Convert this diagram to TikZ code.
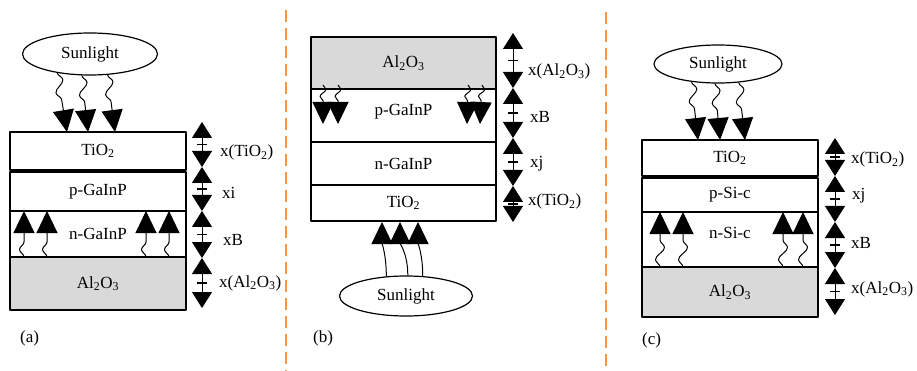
\documentclass[tikz,border=0pt]{standalone}
\usepackage{fontspec}
\setmainfont{Liberation Serif}
\usetikzlibrary{positioning,shapes.geometric,arrows.meta,decorations.pathmorphing,decorations.markings}
\definecolor{sepline}{HTML}{F79646}
\definecolor{oxide}{HTML}{D9D9D9}

\begin{document}
\begin{tikzpicture}[x=1pt, y=1pt, font=\fontsize{17}{20}\selectfont, line join=round,
	layer/.style={draw, line width=1.4pt, minimum width=176pt, inner sep=0pt, outer sep=0pt},
	sun/.style={draw, ellipse, line width=1.2pt, minimum width=135pt, minimum height=42pt, inner sep=0pt},
	ray/.style={line width=1pt, -{Triangle[width=21pt,length=22pt]}, decorate,
		decoration={snake, amplitude=4.5pt, segment length=24pt, post length=22pt}},
	shortray/.style={ray, decoration={snake, amplitude=3pt, segment length=14pt, post length=22pt}},
	beam/.style={line width=1pt, -{Triangle[width=21pt,length=22pt]}},
	span/.style={line width=0.8pt, {Triangle[width=20pt,length=16pt]}-{Triangle[width=20pt,length=16pt]},
		postaction={decorate, decoration={markings, mark=at position 0.5 with {\draw[-, line width=1.6pt] (0,-5pt) -- (0,5pt);}}}},
	dim/.style={anchor=base west, inner sep=0pt},
	sep/.style={draw=sepline, line width=2.2pt, dash pattern=on 12pt off 6pt}]
	\useasboundingbox (0,0) rectangle (917,-371);
	% separators
	\coordinate (s1t) at (286,-10);
	\coordinate (s1b) at (286,-371);
	\coordinate (s2t) at (606,-12);
	\coordinate (s2b) at (606,-371);
	\draw[sep] (s1t) -- (s1b);
	\draw[sep] (s2t) -- (s2b);

	% (a)
	\node[sun] (sunA) at (90,-54) {Sunlight};
	\node[layer, anchor=north, minimum height=38pt] (tioA) at (98,-132) {TiO\textsubscript{2}};
	\node[layer, below=2pt of tioA, minimum height=39pt] (pA) {p-GaInP};
	\node[layer, below=0pt of pA, minimum height=46pt] (nA) {n-GaInP};
	\node[layer, below=0pt of nA, minimum height=53pt, fill=oxide] (aloA) {Al\textsubscript{2}O\textsubscript{3}};
	\coordinate (a1) at (67,-132);
	\coordinate (a2) at (88,-132);
	\coordinate (a3) at (115,-132);
	\draw[ray] (sunA.-150) -- (a1);
	\draw[ray] (sunA.-111) -- (a2);
	\draw[ray] (sunA.-50) -- (a3);
	\foreach \x in {24,47,146,169}
		\draw[ray] (nA.south -| \x,0) -- (nA.north -| \x,0);
	\foreach \n/\y in {0/122,1/167,2/211,3/258,4/308}
		\coordinate (dA\n) at (202,-\y);
	\foreach \i/\j in {0/1,1/2,2/3,3/4}
		\draw[span] (dA\i) -- (dA\j);
	\node[dim] (lA1) at (220,-157) {x(TiO\textsubscript{2})};
	\node[dim] (lA2) at (222,-199) {xi};
	\node[dim] (lA3) at (223,-245) {xB};
	\node[dim] (lA4) at (219,-287) {x(Al\textsubscript{2}O\textsubscript{3})};
	\node[dim] (capA) at (20,-342) {(a)};

	% (b)
	\node[layer, anchor=north, minimum width=185pt, minimum height=52pt, fill=oxide] (aloB) at (403.5,-37) {Al\textsubscript{2}O\textsubscript{3}};
	\node[layer, below=0pt of aloB, minimum width=185pt, minimum height=53pt, label={[yshift=4pt]center:p-GaInP}] (pB) {};
	\node[layer, below=0pt of pB, minimum width=185pt, minimum height=43pt] (nB) {n-GaInP};
	\node[layer, below=0pt of nB, minimum width=185pt, minimum height=36pt] (tioB) {TiO\textsubscript{2}};
	\node[sun, minimum width=133pt, minimum height=40pt] (sunB) at (406,-296) {Sunlight};
	\coordinate (b1) at (382,-222);
	\coordinate (b2) at (400,-222);
	\coordinate (b3) at (418,-222);
	\draw[beam] (sunB.135) to[out=90,in=-90] (b1);
	\draw[beam] (sunB.85) to[out=90,in=-90] (b2);
	\draw[beam] (sunB.50) to[out=90,in=-90] (b3);
	\foreach \x/\t in {323/323,338/338,468/467,482/480}
		\draw[shortray] (\x,-85) -- (\t,-124);
	\foreach \n/\y in {0/33,1/88,2/138,3/186,4/222}
		\coordinate (dB\n) at (513,-\y);
	\foreach \i/\j in {0/1,1/2,2/3,3/4}
		\draw[span] (dB\i) -- (dB\j);
	\node[dim] (lB1) at (528,-76) {x(Al\textsubscript{2}O\textsubscript{3})};
	\node[dim] (lB2) at (530,-123) {xB};
	\node[dim] (lB3) at (530,-168) {xj};
	\node[dim] (lB4) at (528,-206) {x(TiO\textsubscript{2})};
	\node[dim] (capB) at (313,-342) {(b)};

	% (c)
	\node[sun, minimum width=128pt, minimum height=38pt] (sunC) at (718,-64) {Sunlight};
	\node[layer, anchor=north, minimum height=36pt] (tioC) at (730,-140) {TiO\textsubscript{2}};
	\node[layer, below=2pt of tioC, minimum height=34pt] (pC) {p-Si-c};
	\node[layer, below=0pt of pC, minimum height=55pt, label={[yshift=7pt]center:n-Si-c}] (nC) {};
	\node[layer, below=0pt of nC, minimum height=50pt, fill=oxide] (aloC) {Al\textsubscript{2}O\textsubscript{3}};
	\coordinate (c1) at (698,-140);
	\coordinate (c2) at (720,-140);
	\coordinate (c3) at (745,-140);
	\draw[ray] (sunC.-146) -- (c1);
	\draw[ray] (sunC.-99) -- (c2);
	\draw[ray] (sunC.-42) -- (c3);
	\foreach \x in {660,683,783,803}
		\draw[ray] (nC.south -| \x,0) -- (nC.north -| \x,0);
	\foreach \n/\y in {0/138,1/176,2/222,3/268,4/315}
		\coordinate (dC\n) at (835,-\y);
	\foreach \i/\j in {0/1,1/2,2/3,3/4}
		\draw[span] (dC\i) -- (dC\j);
	\node[dim] (lC1) at (851,-164) {x(TiO\textsubscript{2})};
	\node[dim] (lC2) at (852,-200) {xj};
	\node[dim] (lC3) at (851,-248) {xB};
	\node[dim] (lC4) at (851,-293) {x(Al\textsubscript{2}O\textsubscript{3})};
	\node[dim] (capC) at (642,-344) {(c)};
\end{tikzpicture}
\end{document}
